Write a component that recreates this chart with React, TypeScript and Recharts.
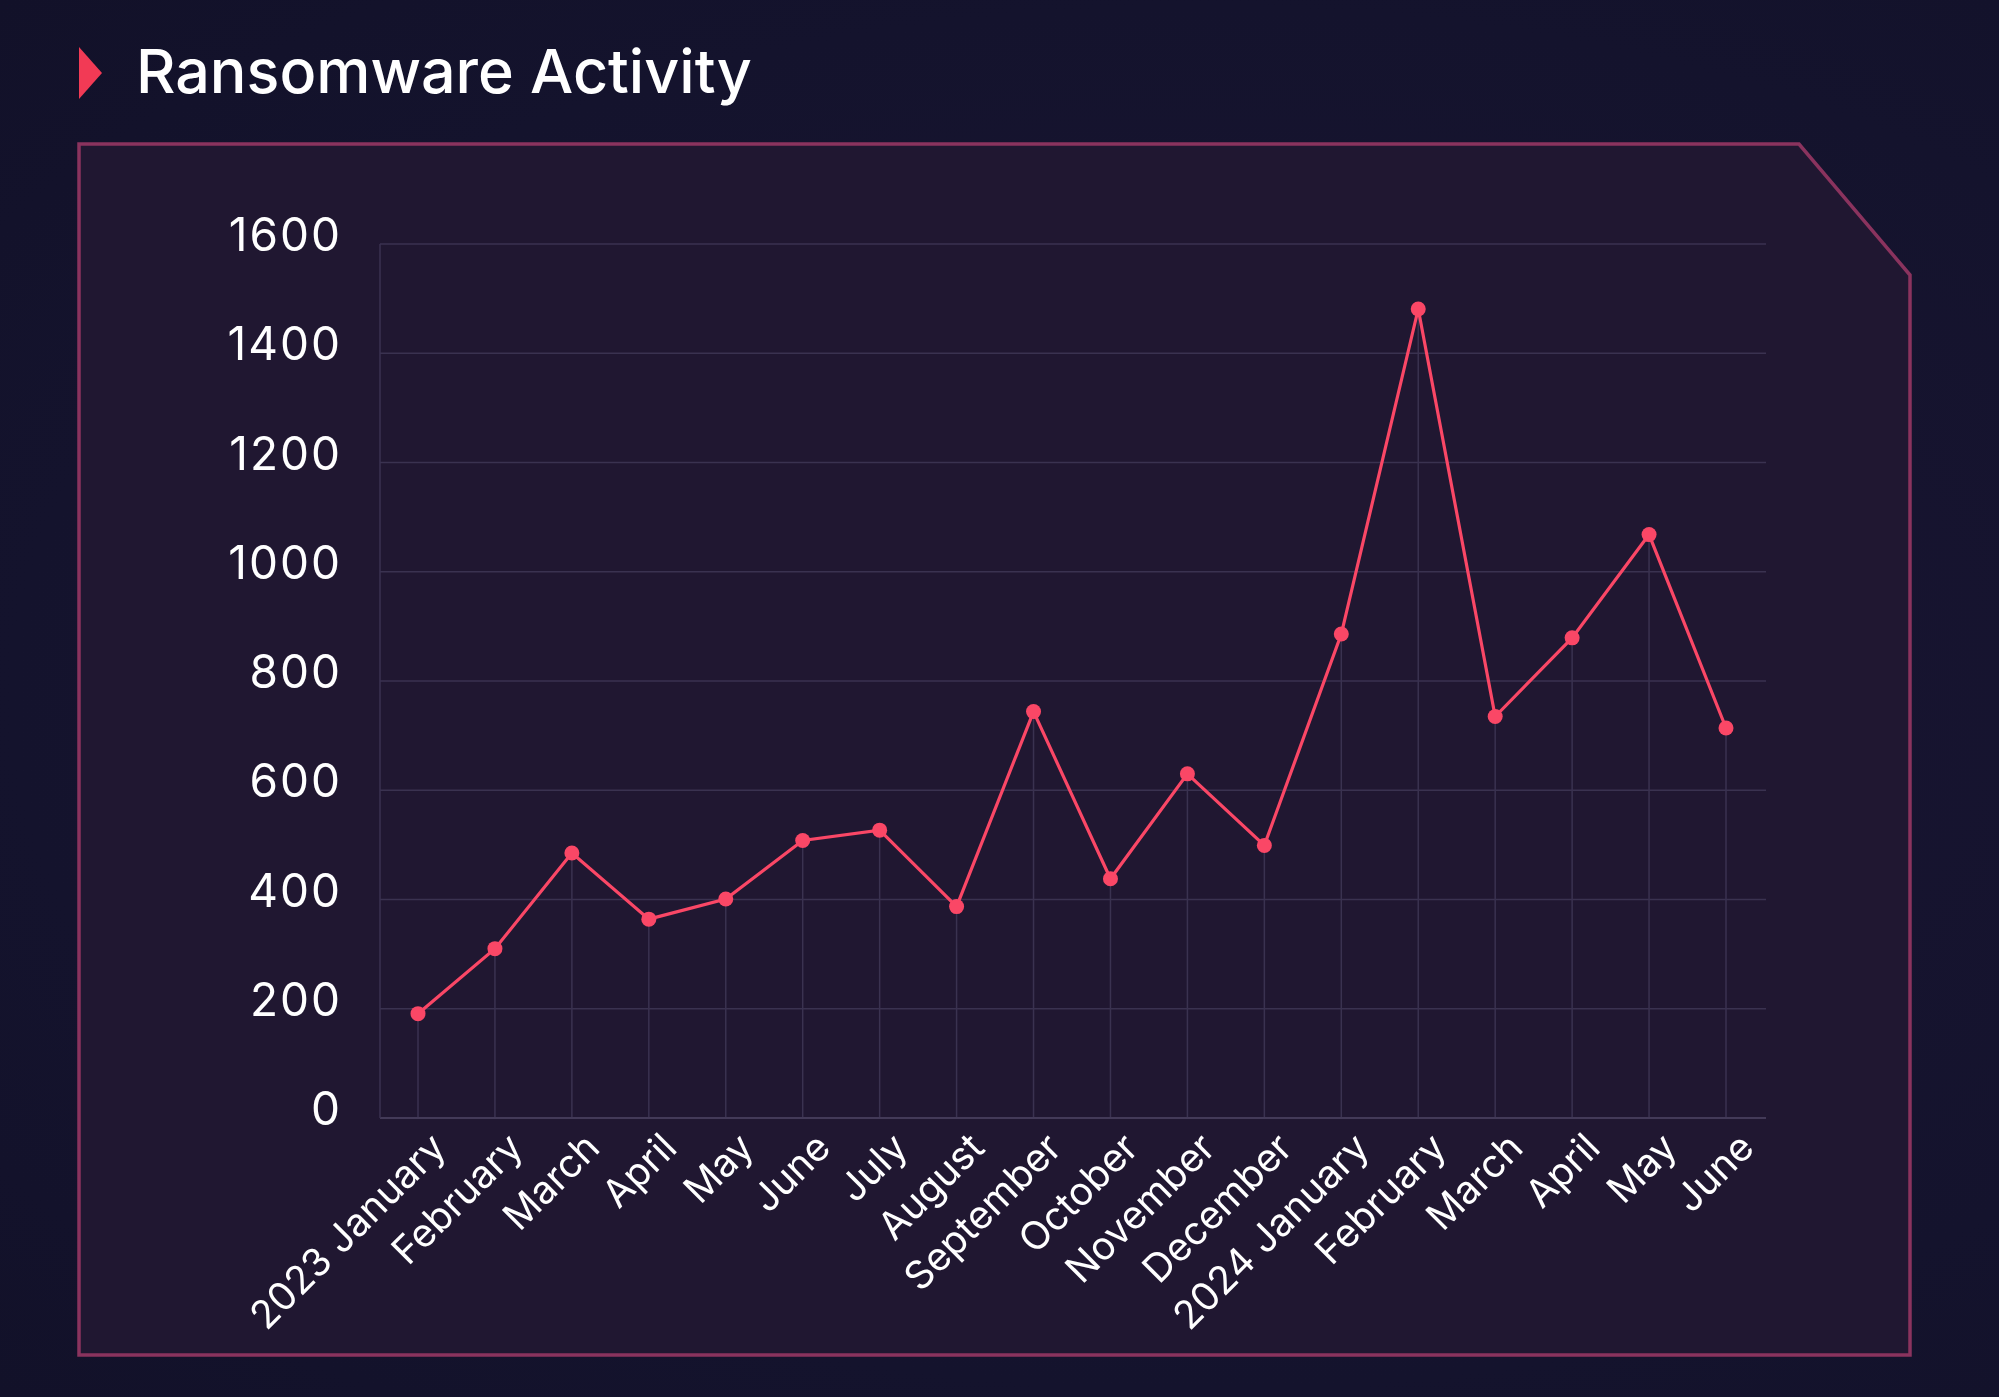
import React from 'react';
import { LineChart, Line, XAxis, YAxis, CartesianGrid, ReferenceLine } from 'recharts';

const monthKeys = ['2023-01', '2023-02', '2023-03', '2023-04', '2023-05', '2023-06', '2023-07', '2023-08', '2023-09', '2023-10', '2023-11', '2023-12', '2024-01', '2024-02', '2024-03', '2024-04', '2024-05', '2024-06'];
const monthLabels = ['2023 January', 'February', 'March', 'April', 'May', 'June', 'July', 'August', 'September', 'October', 'November', 'December', '2024 January', 'February', 'March', 'April', 'May', 'June'];
const activity = [191, 310, 485, 364, 401, 508, 527, 387, 744, 438, 630, 499, 886, 1481, 735, 879, 1068, 714];
const yTicks = [0, 200, 400, 600, 800, 1000, 1200, 1400, 1600];

const title = 'Ransomware Activity';

const data = monthKeys.map((k, i) => ({ key: k, label: monthLabels[i], value: activity[i] }));

const FONT = 'Inter, "Noto Sans", sans-serif';
const LINE = '#fa4766';
const GRID = '#3a3250';

const YTick = (props: any) => {
  const { x, y, payload } = props;
  return (
    <text x={x - 38} y={y - 10} textAnchor="end" dominantBaseline="central" fill="#ffffff" fontSize={46} letterSpacing={2} fontFamily={FONT} fontWeight={400}>
      {payload.value}
    </text>
  );
};

const XTick = (props: any) => {
  const { x, y, payload, index } = props;
  const lbl = monthLabels[index] ?? payload.value;
  return (
    <g transform={`translate(${x + 30},${y + 32}) rotate(-45)`}>
      <text x={0} y={0} textAnchor="end" fill="#ffffff" fontSize={39} fontFamily={FONT} fontWeight={400}>
        {lbl}
      </text>
    </g>
  );
};

export default function App() {
  return (
    <div style={{ position: 'fixed', left: 0, top: 0, width: 1999, height: 1397, background: 'radial-gradient(ellipse at 60% 50%, #1a1533 0%, #14132d 70%, #121129 100%)', overflow: 'hidden', fontFamily: FONT }}>
      <svg width={1999} height={1397} style={{ position: 'absolute', left: 0, top: 0 }}>
        <polygon points="79,47 102,73 79,99" fill="#f23a55" />
        <text x={136} y={93} fill="#ffffff" fontSize={61} fontWeight={500} fontFamily={FONT}>{title}</text>
        <polygon points="79,144 1799,144 1910,275 1910,1355 79,1355" fill="#201731" stroke="#8a335e" strokeWidth={3.5} />
      </svg>
      <div style={{ position: 'absolute', left: 0, top: 0 }}>
        <LineChart width={1999} height={1397} data={data} margin={{ top: 244, right: 233, bottom: 79, left: 180 }}>
          <CartesianGrid horizontal={true} vertical={false} stroke={GRID} strokeWidth={1.5} />
          <XAxis
            dataKey="key"
            type="category"
            interval={0}
            padding={{ left: 38, right: 40 }}
            height={200}
            tickLine={false}
            tickSize={0}
            tickMargin={0}
            axisLine={{ stroke: '#433a58', strokeWidth: 2 }}
            tick={<XTick />}
          />
          <YAxis
            type="number"
            domain={[0, 1600]}
            ticks={yTicks}
            width={200}
            tickLine={false}
            tickSize={0}
            tickMargin={0}
            axisLine={{ stroke: GRID, strokeWidth: 1.5 }}
            tick={<YTick />}
          />
          {data.map((d) => (
            <ReferenceLine
              key={d.key}
              segment={[{ x: d.key, y: 0 }, { x: d.key, y: d.value }]}
              stroke={GRID}
              strokeWidth={1.5}
            />
          ))}
          <Line
            type="linear"
            dataKey="value"
            stroke={LINE}
            strokeWidth={3.2}
            dot={{ r: 7.5, fill: LINE, stroke: 'none' }}
            activeDot={false}
            isAnimationActive={false}
          />
        </LineChart>
      </div>
    </div>
  );
}
